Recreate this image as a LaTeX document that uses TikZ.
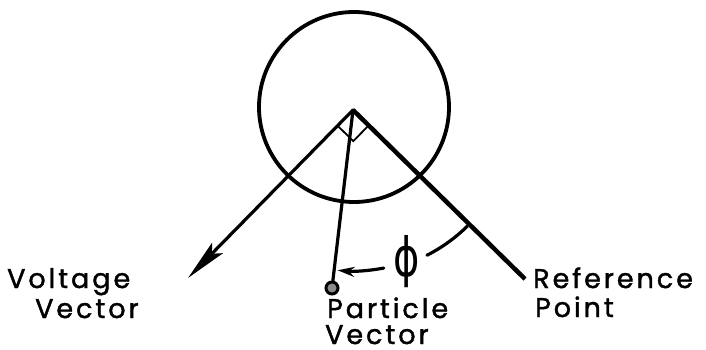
\documentclass[tikz,border=0pt]{standalone}
\usepackage{fontspec}
\setmainfont{Poppins}[LetterSpace=11, FakeBold=1.5]
\newfontfamily\phifont{DejaVu Sans}
\usetikzlibrary{arrows.meta,calc}
\begin{document}
\begin{tikzpicture}[x=1pt,y=-1pt,
  lbl/.style={font=\fontsize{27}{30}\selectfont, inner sep=0pt, anchor=base west},
  vec/.style={line width=3.2pt, line cap=round},
  phistyle/.style={font=\phifont\fontsize{40}{40}\selectfont, inner sep=0pt},
]
\useasboundingbox[fill=white] (0,0) rectangle (706,350);
\node[circle, draw, line width=3.8pt, minimum size=190pt, inner sep=0pt] (C) at (354,107) {};
\coordinate (O) at (353,110);
\coordinate (V) at (188,278);
\coordinate (R) at (525,279);
\node[circle, draw, line width=3pt, fill=black!45, minimum size=12pt, inner sep=0pt] (P) at (332,288) {};
% vectors
\draw[line width=4.5pt] (O) -- (R);
\draw[vec, -{Stealth[length=42pt,width=15pt,inset=8pt]}] (O) -- (V);
\draw[vec] (O) -- (P);
% right angle marker
\coordinate (a) at ($(O)!22pt!(V)$);
\coordinate (b) at ($(O)!22pt!(R)$);
\coordinate (c) at ($(a)+(b)-(O)$);
\draw[line width=1.8pt] (a) -- (c) -- (b);
% angle arc
\coordinate (s1) at ($(O)+(45.5:163)$);
\coordinate (s2) at ($(O)+(79:161)$);
\draw[vec] (s1) arc[start angle=45.5, end angle=63, radius=163];
\draw[vec, -{Stealth[length=17pt,width=10pt]}] (s2) arc[start angle=79, end angle=95.5, radius=161];
\node[phistyle] (phi) at (407,262) {\scalebox{1}[1.35]{ϕ}};
% labels
\node[lbl] (volt1) at (7,288) {Voltage};
\node[lbl] (volt2) at (35,318) {Vector};
\node[lbl] (part1) at (327,318) {Particle};
\node[lbl, text depth=0pt] (part2) at (325,344) {Vector};
\node[lbl] (ref1) at (533,288) {Reference};
\node[lbl] (ref2) at (535,317) {Point};
\end{tikzpicture}
\end{document}
